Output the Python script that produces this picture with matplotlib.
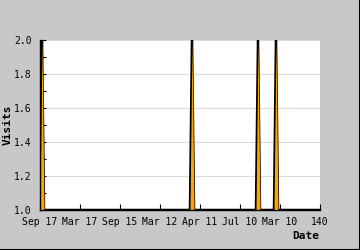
import numpy as np
import matplotlib
matplotlib.use('Agg')
from matplotlib import pyplot as plt
from matplotlib.ticker import MultipleLocator

# daily visits (day index since start)
days = [0, 1, 2, 75, 76, 77, 108, 109, 110, 117, 118, 119, 140]
visits = [1, 2, 1, 1, 2, 1, 1, 2, 1, 1, 2, 1, 1]

tick_pos = [0, 20, 40, 60, 80, 100, 120, 140]
tick_labels = ['Sep 17', 'Mar 17', 'Sep 15', 'Mar 12', 'Apr 11', 'Jul 10', 'Mar 10', '140']

bg = '#c8c8c8'
mono = 'DejaVu Sans Mono'

fig = plt.figure(figsize=(3.6, 2.5), dpi=100, facecolor=bg)
ax = fig.add_axes([40/360, 40/250, 280/360, 170/250])
ax.set_facecolor('white')

# line underneath, orange fill drawn over it
ax.plot(days, visits, color='black', lw=1.8, zorder=2)
ax.fill_between(days, 1.0, visits, color='orange', lw=0, zorder=3)

ax.set_xlim(0, 140)
ax.set_ylim(1.0, 2.0)
ax.yaxis.set_major_locator(MultipleLocator(0.2))
ax.yaxis.set_minor_locator(MultipleLocator(0.1))
ax.set_xticks(tick_pos)
ax.set_xticklabels(tick_labels)
ax.yaxis.grid(True, color='#dcdcdc', lw=0.8)
ax.set_axisbelow(True)

ax.tick_params(axis='both', which='both', direction='in', length=4, width=0.8,
               labelsize=7, colors='black')
ax.tick_params(axis='y', pad=6)
ax.tick_params(axis='x', pad=5)
for lab in ax.get_xticklabels() + ax.get_yticklabels():
    lab.set_family(mono)

for s in ['top', 'right']:
    ax.spines[s].set_visible(False)
for s in ['left', 'bottom']:
    ax.spines[s].set_linewidth(1.0)
    ax.spines[s].set_zorder(4)

fig.text(8/360, 1 - 125/250, 'Visits', rotation=90, ha='center', va='center',
         family=mono, fontweight='bold', fontsize=8)
fig.text(319/360, 1 - 236/250, 'Date', ha='right', va='center',
         family=mono, fontweight='bold', fontsize=8)

# shadow border on right / bottom
fig.add_artist(plt.Line2D([0.999, 0.999], [0, 1], color='black', lw=1.5, transform=fig.transFigure))
fig.add_artist(plt.Line2D([0, 1], [0.002, 0.002], color='black', lw=1.5, transform=fig.transFigure))

fig.savefig('out.png', dpi=100, facecolor=bg)
